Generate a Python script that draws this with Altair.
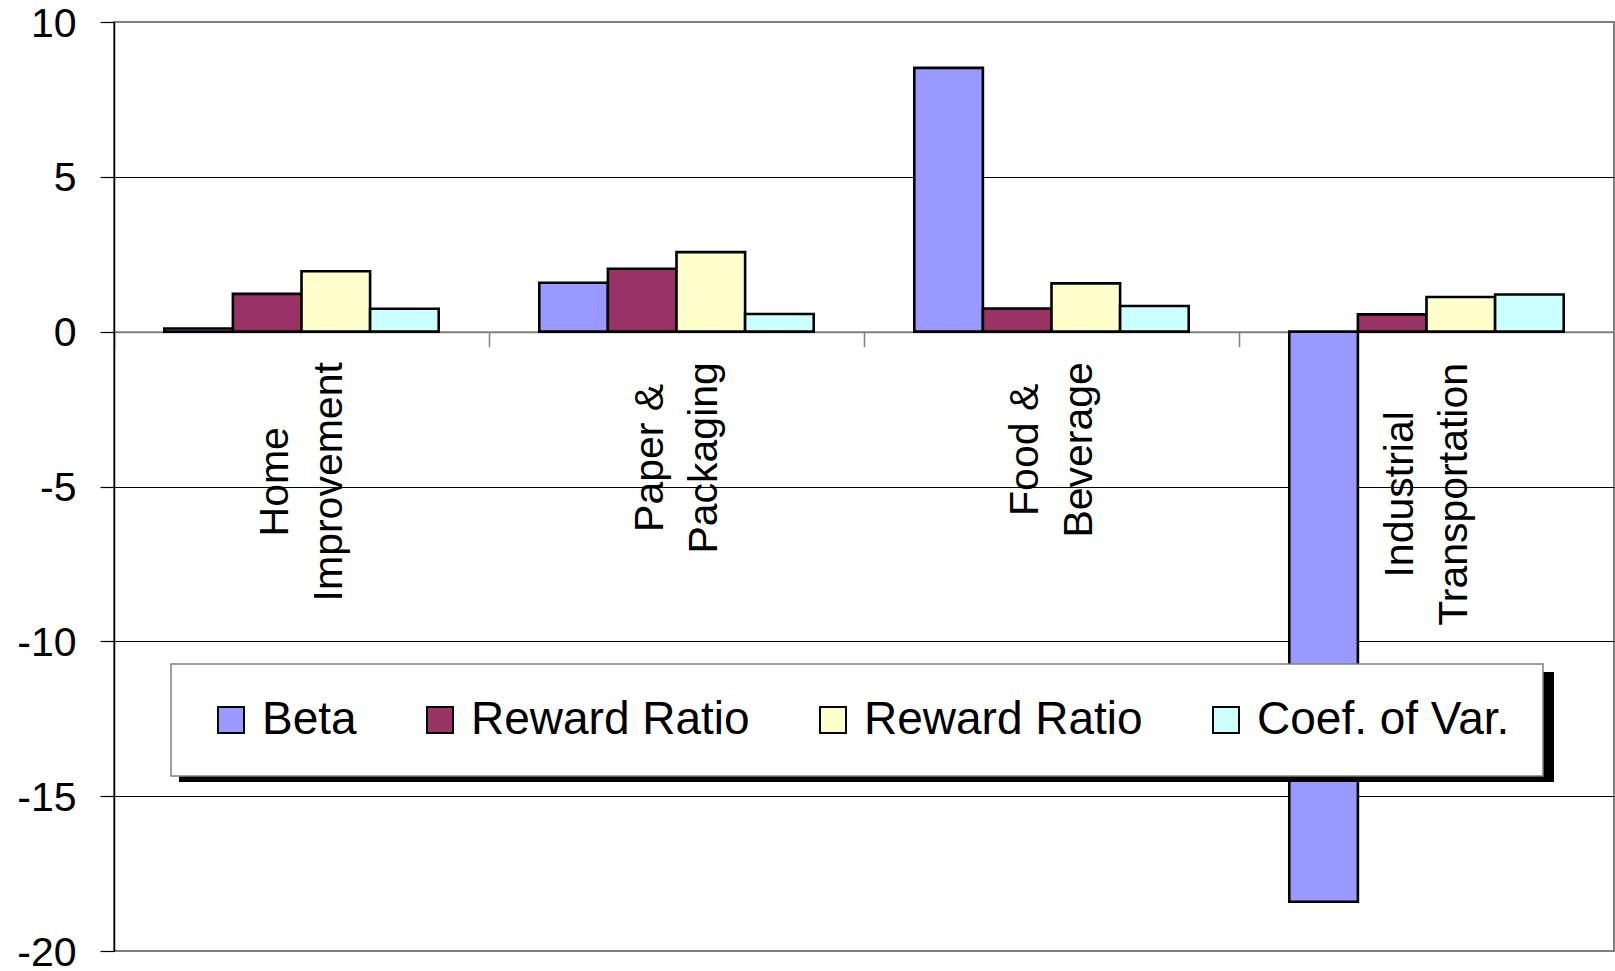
import altair as alt
import pandas as pd

# Sector categories (line breaks split each axis label over two lines)
categories = [
    "Home\nImprovement",
    "Paper &\nPackaging",
    "Food &\nBeverage",
    "Industrial\nTransportation",
]

# Series names as shown in the legend, and their fill colours
series = ["Beta", "Reward Ratio", "Reward Ratio", "Coef. of Var."]
colors = ["#9999FF", "#993366", "#FFFFCC", "#CCFFFF"]

# Values per series, one per category
beta = [0.1, 1.58, 8.52, -18.41]
reward_ratio_a = [1.22, 2.03, 0.75, 0.56]
reward_ratio_b = [1.95, 2.57, 1.56, 1.12]
coef_of_var = [0.74, 0.57, 0.83, 1.20]

y_ticks = [-20, -15, -10, -5, 0, 5, 10]

FONT = "Liberation Sans"
W, H = 1500, 929
Y_MIN, Y_MAX = -20, 10

# long-form table; the key keeps the two "Reward Ratio" series distinct
keys = [f"{i}|{name}" for i, name in enumerate(series)]
rows = []
for key, vals in zip(keys, [beta, reward_ratio_a, reward_ratio_b, coef_of_var]):
    for cat, v in zip(categories, vals):
        rows.append({"category": cat, "series": key, "value": v})
df = pd.DataFrame(rows)

# Arial/Liberation Sans advance widths (1/1000 em) used to centre the
# rotated category labels just below the zero line
ADV = {
    " ": 278, "&": 667, "B": 667, "F": 611, "H": 722, "I": 278, "P": 667, "T": 611,
    "a": 556, "c": 500, "d": 556, "e": 556, "g": 556, "i": 222, "k": 500, "l": 222,
    "m": 833, "n": 556, "o": 556, "p": 556, "r": 333, "s": 500, "t": 278, "u": 556,
    "v": 500,
}
LABEL_SIZE = 41
LINE_HEIGHT = 54


def text_px(s, size):
    return sum(ADV.get(ch, 556) for ch in s) * size / 1000.0


label_gap = 15
pad_conditions = []
for cat in categories:
    longest = max(text_px(line, LABEL_SIZE) for line in cat.split("\n"))
    esc = cat.replace("\n", "\\n")
    pad_conditions.append(
        {"test": f"datum.value == '{esc}'", "value": round(label_gap + longest / 2, 1)}
    )
label_padding = {"condition": pad_conditions, "value": label_gap}

zero_offset = -H * (0 - Y_MIN) / (Y_MAX - Y_MIN)

x_axis = alt.Axis(
    title=None,
    orient="bottom",
    offset=zero_offset,
    labelExpr="split(datum.label, '\\n')",
    labelAngle=270,
    labelAlign="center",
    labelBaseline="middle",
    labelFont=FONT,
    labelFontSize=LABEL_SIZE,
    labelLineHeight=LINE_HEIGHT,
    labelColor="black",
    labelPadding=label_padding,
    labelOffset=-LINE_HEIGHT / 2 + 1,
    labelOverlap=False,
    labelLimit=0,
    tickBand="extent",
    tickSize=15,
    tickColor="#808080",
    tickWidth=1.5,
    domainColor="#808080",
    domainWidth=2,
    grid=False,
)

y_axis = alt.Axis(
    title=None,
    values=y_ticks,
    labelExpr="'' + datum.value",
    labelFont=FONT,
    labelFontSize=41,
    labelColor="black",
    labelPadding=24,
    labelOffset=2,
    tickSize=14,
    tickColor="black",
    tickWidth=1.2,
    domainColor="black",
    domainWidth=1.5,
    grid=True,
    gridColor=alt.condition(
        f"datum.value == {Y_MIN} || datum.value == {Y_MAX}",
        alt.value("transparent"),
        alt.value("black"),
    ),
    gridWidth=1,
)

# legend placement inside the plot area
LEG_X, LEG_Y = 57, 642
LEG_W, LEG_H = 1375, 110
SHADOW = 8

legend = alt.Legend(
    title=None,
    orient="none",
    legendX=LEG_X,
    legendY=LEG_Y,
    direction="horizontal",
    columns=4,
    symbolType="square",
    symbolSize=676,
    symbolStrokeColor="black",
    symbolStrokeWidth=2,
    symbolOffset=4,
    labelExpr="split(datum.label, '|')[1]",
    labelFont=FONT,
    labelFontSize=46,
    labelColor="black",
    labelLimit=500,
    labelOffset=8,
    columnPadding=56,
    padding=33,
    fillColor="white",
    strokeColor="#808080",
)

bars = (
    alt.Chart(df)
    .mark_bar(stroke="black", strokeWidth=2.6)
    .encode(
        x=alt.X(
            "category:N",
            sort=categories,
            scale=alt.Scale(paddingInner=0, paddingOuter=0),
            axis=x_axis,
        ),
        xOffset=alt.XOffset(
            "series:N",
            sort=keys,
            scale=alt.Scale(paddingInner=0, paddingOuter=0.733),
        ),
        y=alt.Y(
            "value:Q",
            scale=alt.Scale(domain=[Y_MIN, Y_MAX], nice=False, zero=True),
            axis=y_axis,
        ),
        color=alt.Color(
            "series:N",
            sort=keys,
            scale=alt.Scale(domain=keys, range=colors),
            legend=legend,
        ),
    )
)

# drop shadow behind the legend box
shadow = (
    alt.Chart(pd.DataFrame({"part": ["legend shadow"]}))
    .mark_rect(color="black")
    .encode(
        x=alt.value(LEG_X + SHADOW),
        x2=alt.value(LEG_X + SHADOW + LEG_W),
        y=alt.value(LEG_Y + SHADOW),
        y2=alt.value(LEG_Y + SHADOW + LEG_H),
    )
)

chart = (
    alt.layer(bars, shadow)
    .properties(
        width=W,
        height=H,
        padding={"left": 114, "top": 22, "right": 1, "bottom": 20},
        autosize=alt.AutoSizeParams(type="none"),
        background="white",
    )
    .configure_view(stroke="#808080", strokeWidth=2)
    .configure_legend(strokeWidth=1.5)
)

chart.save("out.html", embed_options={"renderer": "svg", "actions": False})
